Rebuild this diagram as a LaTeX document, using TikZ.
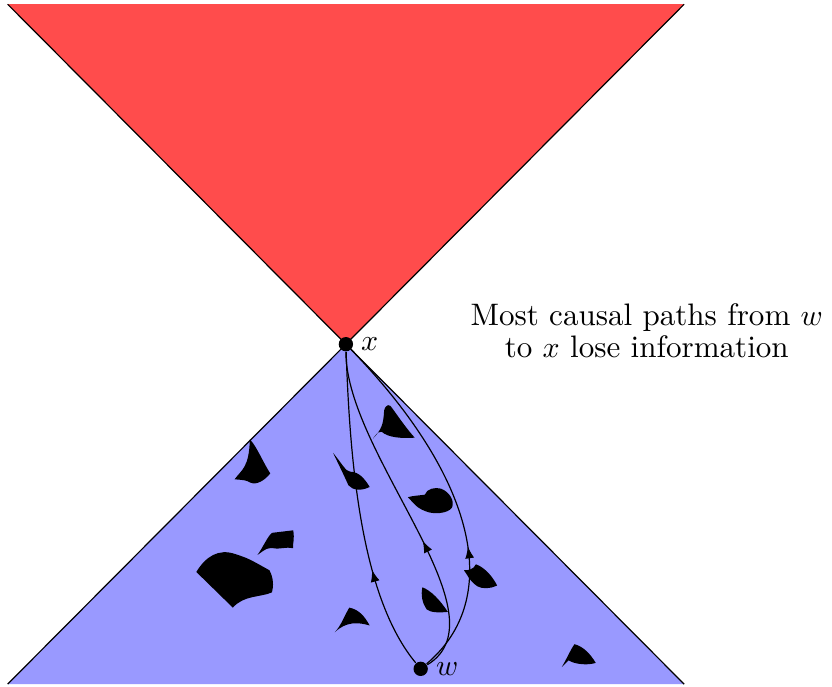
\documentclass[tikz,border=0pt]{standalone}
\usetikzlibrary{arrows.meta,decorations.markings}

\tikzset{
  dot/.style={circle, fill=black, inner sep=0pt, minimum size=4.8pt},
  worldline/.style={postaction={decorate},
    decoration={markings, mark=at position #1 with {\arrow{Latex[length=4pt,width=3pt]}}}}
}

\begin{document}
\begin{tikzpicture}[font=\fontsize{10.4pt}{12.5pt}\selectfont]
    \useasboundingbox (-4.07,-4.03) rectangle (5.72,4.05);

    % future and past cones of x
    \fill[red!70] (0,0) -- (-3.98,4) -- (3.98,4) -- cycle;
    \fill[blue!40] (0,0) -- (-3.98,-4) -- (3.98,-4) -- cycle;
    \draw (-3.98,4) -- (3.98,-4);
    \draw (-3.98,-4) -- (3.98,4);

    % obstacles in the past cone
    \fill (-1.31,-1.59) .. controls (-1.22,-1.47) and (-1.14,-1.45) .. (-1.13,-1.12)
        .. controls (-1.05,-1.2) and (-0.97,-1.4) .. (-0.89,-1.52)
        .. controls (-0.95,-1.6) and (-1.05,-1.66) .. (-1.12,-1.63)
        .. controls (-1.18,-1.6) .. cycle;
    \fill (-1.04,-2.48) .. controls (-0.97,-2.38) and (-0.92,-2.26) .. (-0.87,-2.22)
        -- (-0.62,-2.19) .. controls (-0.6,-2.3) and (-0.63,-2.35) .. (-0.62,-2.4)
        .. controls (-0.7,-2.38) and (-0.8,-2.42) .. (-0.86,-2.4)
        .. controls (-0.93,-2.4) .. cycle;
    \fill (-1.76,-2.68) .. controls (-1.65,-2.5) and (-1.5,-2.4) .. (-1.3,-2.47)
        .. controls (-1.15,-2.52) .. (-0.9,-2.66)
        .. controls (-0.85,-2.75) and (-0.85,-2.85) .. (-0.87,-2.92)
        .. controls (-1.0,-2.98) and (-1.2,-2.95) .. (-1.33,-3.1) -- cycle;
    \fill (0.32,-1.11) .. controls (0.42,-1.0) and (0.44,-0.95) .. (0.45,-0.78)
        .. controls (0.47,-0.7) and (0.52,-0.7) .. (0.55,-0.76)
        .. controls (0.65,-0.9) and (0.72,-1.0) .. (0.81,-1.1)
        .. controls (0.65,-1.11) and (0.5,-1.1) .. (0.42,-1.03)
        .. controls (0.38,-1.03) .. cycle;
    \fill (-0.15,-1.28) .. controls (-0.05,-1.4) and (0,-1.5) .. (0.05,-1.5)
        .. controls (0.15,-1.5) and (0.22,-1.58) .. (0.28,-1.68)
        .. controls (0.18,-1.73) and (0.08,-1.72) .. (0.03,-1.66)
        .. controls (-0.02,-1.55) .. cycle;
    \fill (0.73,-1.8) .. controls (0.8,-1.78) and (0.88,-1.78) .. (0.93,-1.77)
        .. controls (0.95,-1.7) and (1.05,-1.68) .. (1.12,-1.7)
        .. controls (1.22,-1.74) and (1.28,-1.84) .. (1.25,-1.92)
        .. controls (1.2,-2.0) and (1.02,-2.0) .. (0.95,-1.97)
        .. controls (0.85,-1.93) .. cycle;
    \fill (1.39,-2.66) .. controls (1.45,-2.66) and (1.5,-2.65) .. (1.53,-2.59)
        .. controls (1.62,-2.62) and (1.72,-2.72) .. (1.78,-2.84)
        .. controls (1.7,-2.88) and (1.6,-2.88) .. (1.55,-2.85)
        .. controls (1.48,-2.8) .. cycle;
    \fill (0.9,-2.86) .. controls (1.0,-2.9) and (1.1,-3.0) .. (1.2,-3.15)
        .. controls (1.1,-3.16) and (1.0,-3.16) .. (0.95,-3.12)
        .. controls (0.9,-3.05) and (0.88,-2.95) .. cycle;
    \fill (-0.13,-3.39) .. controls (-0.05,-3.3) and (-0.02,-3.2) .. (0.04,-3.1)
        .. controls (0.15,-3.12) and (0.22,-3.2) .. (0.28,-3.31)
        .. controls (0.15,-3.27) and (0.0,-3.26) .. cycle;
    \fill (2.54,-3.8) .. controls (2.6,-3.7) and (2.64,-3.6) .. (2.69,-3.53)
        .. controls (2.8,-3.56) and (2.88,-3.65) .. (2.94,-3.75)
        .. controls (2.85,-3.78) and (2.7,-3.77) .. (2.62,-3.72)
        .. controls (2.58,-3.76) .. cycle;

    \node[dot, label={[label distance=-1pt]right:$x$}] (x) at (0,0) {};
    \node[dot, label={[label distance=-1pt]right:$w$}] (w) at (0.88,-3.82) {};

    % causal paths from w up to x
    \draw[worldline=0.32] (w) .. controls (0.2,-3.0) and (0.05,-1.5) .. (x);
    \draw[worldline=0.40] (w) .. controls (1.9,-3.2) and (0.0,-1.3) .. (x);
    \draw[worldline=0.36] (w) .. controls (1.85,-3.0) and (1.55,-1.6) .. (x);

    \node[align=center] (note) at (3.54,0.16) {Most causal paths from $w$\\[-2pt] to $x$ lose information};
\end{tikzpicture}
\end{document}
